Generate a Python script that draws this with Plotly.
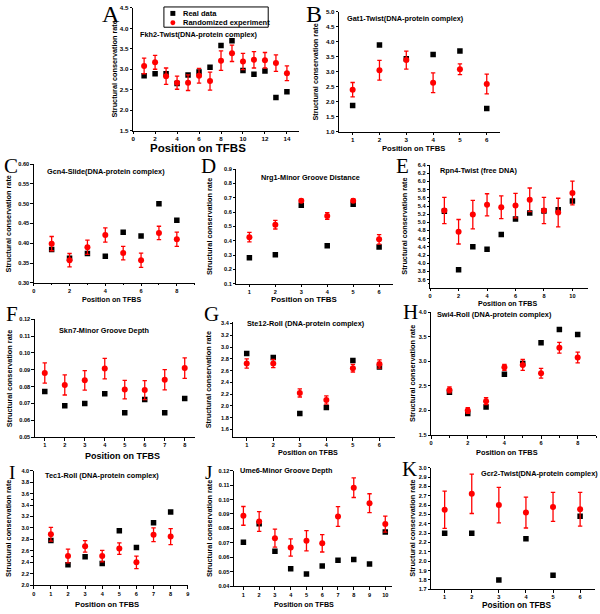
import plotly.graph_objects as go

# ---------------- data ----------------
titles = {
    "A": "Fkh2-Twist(DNA-protein complex)",
    "B": "Gat1-Twist(DNA-protein complex)",
    "C": "Gcn4-Slide(DNA-protein complex)",
    "D": "Nrg1-Minor Groove Distance",
    "E": "Rpn4-Twist (free DNA)",
    "F": "Skn7-Minor Groove Depth",
    "G": "Ste12-Roll (DNA-protein complex)",
    "H": "Swi4-Roll (DNA-protein complex)",
    "I": "Tec1-Roll (DNA-protein complex)",
    "J": "Ume6-Minor Groove Depth",
    "K": "Gcr2-Twist(DNA-protein complex)",
}

pos_A = list(range(1, 15))
real_A = [2.84, 2.89, 2.89, 2.65, 2.86, 2.93, 3.05, 3.58, 3.70, 2.97, 2.88, 2.96, 2.31, 2.45]
rand_A = [3.08, 3.17, 2.83, 2.67, 2.67, 2.84, 2.71, 3.21, 3.39, 3.19, 3.23, 3.22, 3.15, 2.90]
err_A = [0.19, 0.17, 0.20, 0.16, 0.19, 0.18, 0.22, 0.24, 0.20, 0.20, 0.20, 0.19, 0.20, 0.18]

pos_B = list(range(1, 7))
real_B = [1.87, 3.89, 3.43, 3.58, 3.69, 1.77]
rand_B = [2.40, 3.05, 3.39, 2.63, 3.08, 2.59]
err_B = [0.24, 0.33, 0.30, 0.33, 0.18, 0.33]

pos_C = list(range(1, 9))
real_C = [0.384, 0.362, 0.374, 0.367, 0.428, 0.418, 0.500, 0.458]
rand_C = [0.399, 0.357, 0.390, 0.421, 0.375, 0.357, 0.426, 0.410]
err_C = [0.018, 0.017, 0.018, 0.018, 0.017, 0.018, 0.017, 0.018]

pos_D = list(range(1, 7))
real_D = [0.282, 0.302, 0.648, 0.365, 0.655, 0.357]
rand_D = [0.425, 0.512, 0.680, 0.573, 0.680, 0.410]
err_D = [0.033, 0.030, 0.011, 0.024, 0.012, 0.033]

pos_E = list(range(1, 11))
real_E = [5.27, 3.84, 4.40, 4.34, 4.70, 5.08, 5.23, 5.28, 5.31, 5.52]
rand_E = [5.29, 4.77, 5.19, 5.43, 5.37, 5.41, 5.55, 5.29, 5.24, 5.72]
err_E = [0.32, 0.30, 0.35, 0.27, 0.28, 0.30, 0.29, 0.32, 0.35, 0.29]

pos_F = list(range(1, 9))
real_F = [0.0771, 0.0686, 0.0700, 0.0757, 0.0645, 0.0723, 0.0645, 0.0729]
rand_F = [0.0881, 0.0810, 0.0837, 0.0907, 0.0782, 0.0779, 0.0841, 0.0910]
err_F = [0.0060, 0.0060, 0.0058, 0.0061, 0.0055, 0.0056, 0.0060, 0.0061]

pos_G = list(range(1, 7))
real_G = [2.89, 2.82, 1.87, 1.97, 2.77, 2.66]
rand_G = [2.72, 2.72, 2.22, 2.10, 2.64, 2.71]
err_G = [0.08, 0.07, 0.07, 0.07, 0.065, 0.07]

pos_H = list(range(1, 9))
real_H = [2.37, 1.94, 2.07, 2.74, 2.96, 3.38, 3.65, 3.55]
rand_H = [2.42, 2.00, 2.19, 2.88, 2.93, 2.76, 3.28, 3.08]
err_H = [0.06, 0.06, 0.07, 0.06, 0.11, 0.10, 0.11, 0.11]

pos_I = list(range(1, 9))
real_I = [2.78, 2.36, 2.50, 2.38, 2.95, 2.66, 3.09, 3.28]
rand_I = [2.89, 2.51, 2.68, 2.51, 2.64, 2.40, 2.88, 2.85]
err_I = [0.12, 0.12, 0.10, 0.10, 0.10, 0.11, 0.12, 0.14]

pos_J = list(range(1, 11))
real_J = [0.0705, 0.0832, 0.0642, 0.0522, 0.0485, 0.0540, 0.0580, 0.0585, 0.0555, 0.0775]
rand_J = [0.0887, 0.0848, 0.0733, 0.0668, 0.0715, 0.0697, 0.0883, 0.1082, 0.0975, 0.0830]
err_J = [0.0065, 0.0068, 0.0062, 0.0060, 0.0070, 0.0060, 0.0068, 0.0068, 0.0065, 0.0055]

pos_K = list(range(1, 7))
real_K = [2.30, 2.30, 1.80, 2.24, 1.85, 2.48]
rand_K = [2.55, 2.72, 2.60, 2.52, 2.58, 2.555]
err_K = [0.20, 0.21, 0.19, 0.165, 0.155, 0.18]

data = {
    "A": (pos_A, real_A, rand_A, err_A),
    "B": (pos_B, real_B, rand_B, err_B),
    "C": (pos_C, real_C, rand_C, err_C),
    "D": (pos_D, real_D, rand_D, err_D),
    "E": (pos_E, real_E, rand_E, err_E),
    "F": (pos_F, real_F, rand_F, err_F),
    "G": (pos_G, real_G, rand_G, err_G),
    "H": (pos_H, real_H, rand_H, err_H),
    "I": (pos_I, real_I, rand_I, err_I),
    "J": (pos_J, real_J, rand_J, err_J),
    "K": (pos_K, real_K, rand_K, err_K),
}

legend_labels = ["Real data", "Randomized experiment"]
x_title = "Position on TFBS"
y_title = "Structural conservation rate"

# ---------------- layout (pixel boxes) ----------------
W, H = 600, 614
# left, right, top, bottom (px)
boxes = {
    "A": (132, 299, 4, 128),
    "B": (339.5, 501.5, 8, 129),
    "C": (32, 194, 162, 282),
    "D": (236, 394, 167, 283),
    "E": (431, 590, 163, 287),
    "F": (33, 194, 319, 438),
    "G": (233, 396, 322, 438),
    "H": (432, 598, 312, 436),
    "I": (32, 187, 472, 588),
    "J": (233.5, 393, 472, 589),
    "K": (432, 597, 469, 592),
}
xcfg = {
    "A": ([0, 15.1], list(range(0, 15, 2))),
    "B": ([0.5, 6.5], list(range(1, 7))),
    "C": ([0, 9], list(range(0, 9, 2))),
    "D": ([0.5, 6.55], list(range(1, 7))),
    "E": ([0, 11.1], list(range(0, 11, 2))),
    "F": ([0.5, 8.5], list(range(1, 9))),
    "G": ([0.5, 6.6], list(range(1, 7))),
    "H": ([0, 9], list(range(0, 9, 2))),
    "I": ([0, 9], list(range(0, 10))),
    "J": ([0.4, 10.45], list(range(1, 11))),
    "K": ([0.5, 6.55], list(range(1, 7))),
}
ycfg = {
    "A": ([1.5, 4.5], [1.5, 2.0, 2.5, 3.0, 3.5, 4.0, 4.5], ".1f"),
    "B": ([1.0, 5.0], [1.0, 1.5, 2.0, 2.5, 3.0, 3.5, 4.0, 4.5, 5.0], ".1f"),
    "C": ([0.30, 0.60], [0.30, 0.35, 0.40, 0.45, 0.50, 0.55, 0.60], ".2f"),
    "D": ([0.1, 0.9], [0.1, 0.2, 0.3, 0.4, 0.5, 0.6, 0.7, 0.8, 0.9], ".1f"),
    "E": ([3.4, 6.4], [3.6, 3.8, 4.0, 4.2, 4.4, 4.6, 4.8, 5.0, 5.2, 5.4, 5.6, 5.8, 6.0, 6.2, 6.4], ".1f"),
    "F": ([0.05, 0.12], [0.05, 0.06, 0.07, 0.08, 0.09, 0.10, 0.11, 0.12], ".2f"),
    "G": ([1.47, 3.42], [1.6, 1.8, 2.0, 2.2, 2.4, 2.6, 2.8, 3.0, 3.2, 3.4], ".1f"),
    "H": ([1.5, 4.0], [1.5, 2.0, 2.5, 3.0, 3.5, 4.0], ".1f"),
    "I": ([2.0, 4.0], [2.0, 2.2, 2.4, 2.6, 2.8, 3.0, 3.2, 3.4, 3.6, 3.8, 4.0], ".1f"),
    "J": ([0.04, 0.12], [0.04, 0.05, 0.06, 0.07, 0.08, 0.09, 0.10, 0.11, 0.12], ".2f"),
    "K": ([1.7, 3.0], [1.7, 1.8, 1.9, 2.0, 2.1, 2.2, 2.3, 2.4, 2.5, 2.6, 2.7, 2.8, 2.9, 3.0], ".1f"),
}
# panel letter positions (center px) and font size
letters = {
    "A": (110, 10, 24), "B": (314, 10, 24), "C": (9, 164, 21), "D": (208, 164, 21),
    "E": (403, 164, 21), "F": (10, 314, 21), "G": (211, 314, 21), "H": (411, 312, 21),
    "I": (10, 474, 19), "J": (208, 474, 19), "K": (410, 470, 21),
}
# panel title positions (left px, center y px)
title_pos = {
    "A": (137, 31), "B": (345, 15), "C": (43, 169), "D": (259, 175), "E": (439, 168),
    "F": (55, 330), "G": (245, 323), "H": (436, 314), "I": (41, 477), "J": (238, 472),
    "K": (480, 475),
}
# x-axis title (center x, center y, size)
xt_pos = {
    "A": (197, 146, 11.5), "B": (414, 146, 7.6), "C": (110, 299, 7.1), "D": (304, 299, 7.9),
    "E": (509, 303, 7.1), "F": (121, 457, 9.0), "G": (308, 454, 7.2), "H": (508, 454, 7.4),
    "I": (106, 607, 7.7), "J": (304, 607, 7.2), "K": (518, 608, 8.3),
}
# y-axis title center x
yt_x = {"A": 113, "B": 316, "C": 7, "D": 209, "E": 405, "F": 7, "G": 208, "H": 413,
        "I": 7, "J": 209, "K": 413}

FONT = "Arial, 'Liberation Sans', sans-serif"
SERIF = "'Times New Roman', 'Liberation Serif', serif"

def px(x):
    return x / W

def py(y):
    return 1 - y / H

fig = go.Figure()
annotations = []
layout = {}

for i, key in enumerate(titles.keys()):
    n = "" if i == 0 else str(i + 1)
    pos, real, rand, err = data[key]
    fig.add_trace(go.Scatter(
        x=pos, y=real, mode="markers", name=legend_labels[0], showlegend=False,
        marker=dict(symbol="square", size=5.5, color="black"),
        xaxis="x" + n, yaxis="y" + n))
    fig.add_trace(go.Scatter(
        x=pos, y=rand, mode="markers", name=legend_labels[1], showlegend=False,
        marker=dict(symbol="circle", size=6, color="#ff0000"),
        error_y=dict(type="data", array=err, visible=True, color="#ff0000",
                     thickness=1.3, width=2.2),
        xaxis="x" + n, yaxis="y" + n))

    l, r, t, b = boxes[key]
    xr, xtv = xcfg[key]
    yr, ytv, yfmt = ycfg[key]
    tsize = 6.2 if key in ("A", "B") else 5.6
    common = dict(showline=True, linecolor="black", linewidth=1, ticks="outside",
                  ticklen=2.5, tickwidth=1, tickcolor="black", showgrid=False,
                  zeroline=False, mirror=False,
                  tickfont=dict(family=FONT, size=tsize, color="black", weight="bold"),
                  minor=dict(ticks="outside", ticklen=1.5, tickcolor="black", nticks=2))
    layout["xaxis" + n] = dict(domain=[px(l), px(r)], range=xr, tickvals=xtv,
                               anchor="y" + n, **common)
    layout["yaxis" + n] = dict(domain=[py(b), py(t)], range=yr, tickvals=ytv,
                               tickformat=yfmt, anchor="x" + n, **common)

    lx, ly, lsz = letters[key]
    annotations.append(dict(x=px(lx), y=py(ly), xref="paper", yref="paper", text=key,
                            showarrow=False, xanchor="center", yanchor="middle",
                            font=dict(family=SERIF, size=lsz, color="black")))
    tx, ty = title_pos[key]
    annotations.append(dict(x=px(tx), y=py(ty), xref="paper", yref="paper",
                            text=titles[key], showarrow=False, xanchor="left",
                            yanchor="middle",
                            font=dict(family=FONT, size=7.3, color="black", weight="bold")))
    xx, xy, xs = xt_pos[key]
    annotations.append(dict(x=px(xx), y=py(xy), xref="paper", yref="paper", text=x_title,
                            showarrow=False, xanchor="center", yanchor="middle",
                            font=dict(family=FONT, size=xs, color="black", weight="bold")))
    annotations.append(dict(x=px(yt_x[key]), y=py((t + b) / 2), xref="paper", yref="paper",
                            text=y_title, showarrow=False, textangle=-90,
                            xanchor="center", yanchor="middle",
                            font=dict(family=FONT, size=7.3, color="black", weight="bold")))

# legend for panel A (box, symbols and labels)
shapes = [
    dict(type="rect", xref="paper", yref="paper", x0=px(163), x1=px(268), y0=py(23.5), y1=py(3),
         line=dict(color="black", width=1), fillcolor="white", layer="below"),
    dict(type="rect", xref="paper", yref="paper", x0=px(169.5), x1=px(174.5), y0=py(12), y1=py(7),
         line=dict(width=0), fillcolor="black"),
    dict(type="circle", xref="paper", yref="paper", x0=px(169.5), x1=px(174.5), y0=py(21.5), y1=py(16.5),
         line=dict(width=0), fillcolor="#ff0000"),
]
for lab, yy in zip(legend_labels, [9.5, 19]):
    annotations.append(dict(x=px(180), y=py(yy), xref="paper", yref="paper", text=lab,
                            showarrow=False, xanchor="left", yanchor="middle",
                            font=dict(family=FONT, size=7.5, color="black", weight="bold")))

fig.update_layout(
    width=W, height=H, margin=dict(l=0, r=0, t=0, b=0),
    paper_bgcolor="white", plot_bgcolor="rgba(0,0,0,0)",
    showlegend=False, annotations=annotations, shapes=shapes,
    **layout)

fig.write_html("out.html", config={"displayModeBar": False},
               post_script="document.body.style.margin='0';document.body.style.overflow='hidden';")
